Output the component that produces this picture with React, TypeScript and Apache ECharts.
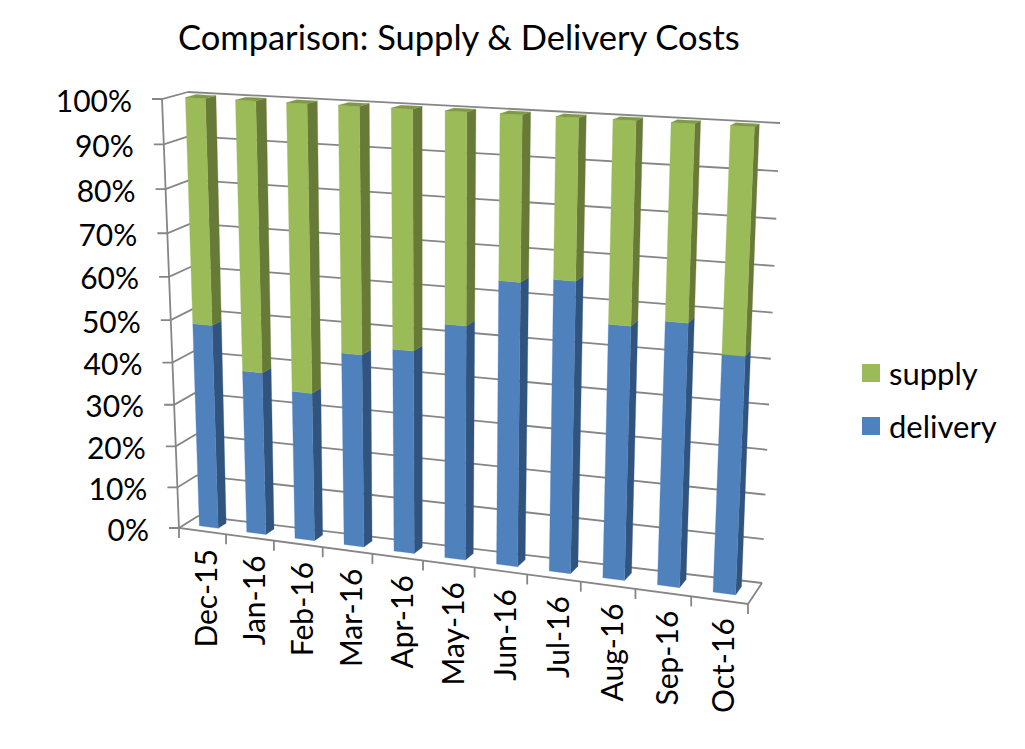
import React, { useEffect, useRef } from "react";
import * as echarts from "echarts";

const months = ["Dec-15", "Jan-16", "Feb-16", "Mar-16", "Apr-16", "May-16", "Jun-16", "Jul-16", "Aug-16", "Sep-16", "Oct-16"];
const delivery = [48.6, 38.6, 35, 45, 47, 53.7, 64.3, 65.5, 56.8, 58.5, 52.5];
const supply = [51.4, 61.4, 65, 55, 53, 46.3, 35.7, 34.5, 43.2, 41.5, 47.5];
const yTicks = [0, 10, 20, 30, 40, 50, 60, 70, 80, 90, 100];

const GRID = { x: 100, y: 100, w: 600, h: 400 };
const FRONT = [[179, 528], [748, 604], [769, 130], [162, 99]];
const BACK = [[198, 516], [762, 583], [780, 123], [188, 92]];
const BAR_HALF = 0.2;
const BAR_D0 = 0.33;
const BAR_D1 = 0.74;
const LINE = "#868686";
const FONT = "Lato";

function homography(q: number[][]) {
  const [[x0, y0], [x1, y1], [x2, y2], [x3, y3]] = q;
  const dx1 = x1 - x2, dx2 = x3 - x2, sx = x0 - x1 + x2 - x3;
  const dy1 = y1 - y2, dy2 = y3 - y2, sy = y0 - y1 + y2 - y3;
  const den = dx1 * dy2 - dx2 * dy1;
  const g = (sx * dy2 - dx2 * sy) / den;
  const h = (dx1 * sy - sx * dy1) / den;
  const a = x1 - x0 + g * x1, b = x3 - x0 + h * x3, d = y1 - y0 + g * y1, e = y3 - y0 + h * y3;
  return (u: number, v: number) => {
    const w = g * u + h * v + 1;
    return [(a * u + b * v + x0) / w, (d * u + e * v + y0) / w];
  };
}
const hf = homography(FRONT);
const hb = homography(BACK);
function project(u: number, v: number, depth: number) {
  const f = hf(u, v), b = hb(u, v);
  return [f[0] + (b[0] - f[0]) * depth, f[1] + (b[1] - f[1]) * depth];
}
function pt(api: any, i: number, val: number, off: number, depth: number) {
  const c = api.coord([i, val]);
  const band = api.size([1, 0])[0];
  return project((c[0] + off * band - GRID.x) / GRID.w, (GRID.y + GRID.h - c[1]) / GRID.h, depth);
}
const poly = (points: number[][], fill: string) => ({ type: "polygon", shape: { points }, style: { fill, stroke: fill, lineWidth: 0.3 } });
const line = (points: number[][]) => ({ type: "polyline", shape: { points }, style: { stroke: LINE, lineWidth: 1.8, fill: "none" } });

function barSeries(name: string, front: string, side: string, top: string | null, from: number[], amount: number[]) {
  return {
    type: "custom",
    name,
    itemStyle: { color: front },
    data: months.map((_, i) => [i, from[i], from[i] + amount[i]]),
    encode: { x: 0, y: [1, 2] },
    renderItem: (_p: any, api: any) => {
      const i = api.value(0), a = api.value(1), b = api.value(2);
      const P = (off: number, val: number, d: number) => pt(api, i, val, off, d);
      const L = -BAR_HALF, R = BAR_HALF;
      const children: any[] = [
        poly([P(R, a, BAR_D0), P(R, a, BAR_D1), P(R, b, BAR_D1), P(R, b, BAR_D0)], side),
        poly([P(L, a, BAR_D0), P(R, a, BAR_D0), P(R, b, BAR_D0), P(L, b, BAR_D0)], front),
      ];
      if (top) children.push(poly([P(L, b, BAR_D0), P(R, b, BAR_D0), P(R, b, BAR_D1), P(L, b, BAR_D1)], top));
      return { type: "group", children };
    },
  };
}

const wallSeries = {
  type: "custom",
  silent: true,
  data: yTicks.map((v) => [0, v]),
  encode: { x: 0, y: 1 },
  renderItem: (_p: any, api: any) => {
    const v = api.value(1);
    const n = months.length - 1;
    const bl = pt(api, 0, v, -0.5, 1), br = pt(api, n, v, 0.5, 1), fl = pt(api, 0, v, -0.5, 0);
    return {
      type: "group",
      children: [
        line([bl, br]),
        line([[fl[0] - 10, fl[1]], fl, bl]),
        {
          type: "text",
          x: fl[0] - 30,
          y: fl[1] + 0.5,
          style: { text: v + "%", fill: "#000", fontFamily: FONT, fontSize: 30, align: "right", verticalAlign: "middle" },
        },
      ],
    };
  },
};

const floorSeries = {
  type: "custom",
  silent: true,
  data: [[0, 0, 100]],
  encode: { x: 0, y: [1, 2] },
  renderItem: (_p: any, api: any) => {
    const n = months.length - 1;
    const fl0 = pt(api, 0, 0, -0.5, 0), fl1 = pt(api, 0, 100, -0.5, 0);
    const fr0 = pt(api, n, 0, 0.5, 0), br0 = pt(api, n, 0, 0.5, 1);
    return { type: "group", children: [line([fl1, fl0, fr0, br0])] };
  },
};

const xAxisSeries = {
  type: "custom",
  silent: true,
  data: months.map((_, i) => [i, 0]),
  encode: { x: 0, y: 1 },
  renderItem: (_p: any, api: any) => {
    const i = api.value(0);
    const right = pt(api, i, 0, 0.5, 0);
    const mid = pt(api, i, 0, 0, 0);
    const children: any[] = [
      line([right, [right[0], right[1] + 10]]),
      {
        type: "text",
        x: mid[0] + 3,
        y: mid[1] + 18,
        rotation: Math.PI / 2,
        style: { text: months[i], fill: "#000", fontFamily: FONT, fontSize: 30, align: "right", verticalAlign: "middle" },
      },
    ];
    if (i === 0) {
      const left = pt(api, i, 0, -0.5, 0);
      children.push(line([left, [left[0], left[1] + 10]]));
    }
    return { type: "group", children };
  },
};

export default function App() {
  const ref = useRef<HTMLDivElement>(null);
  useEffect(() => {
    const chart = echarts.init(ref.current!, undefined, { renderer: "svg" });
    chart.setOption({
      animation: false,
      backgroundColor: "#fff",
      title: {
        text: "Comparison: Supply & Delivery Costs",
        left: 173,
        top: 14,
        textStyle: { fontFamily: FONT, fontSize: 34.5, fontWeight: "normal", color: "#000" },
      },
      legend: {
        orient: "vertical",
        left: 862,
        top: 357.5,
        padding: 0,
        icon: "rect",
        itemWidth: 18,
        itemHeight: 18,
        itemGap: 22,
        data: ["supply", "delivery"],
        textStyle: { fontFamily: FONT, fontSize: 31, color: "#000", padding: [0, 0, 0, 4] },
      },
      grid: { left: GRID.x, top: GRID.y, width: GRID.w, height: GRID.h },
      xAxis: { type: "category", data: months, show: false },
      yAxis: { type: "value", min: 0, max: 100, interval: 10, show: false },
      series: [
        wallSeries,
        floorSeries,
        xAxisSeries,
        barSeries("delivery", "#4F81BD", "#31547F", null, months.map(() => 0), delivery),
        barSeries("supply", "#9BBB59", "#687A37", "#7F9A45", delivery, supply),
      ],
    });
    return () => chart.dispose();
  }, []);
  return <div ref={ref} style={{ position: "absolute", left: 0, top: 0, width: 1025, height: 749 }} />;
}
